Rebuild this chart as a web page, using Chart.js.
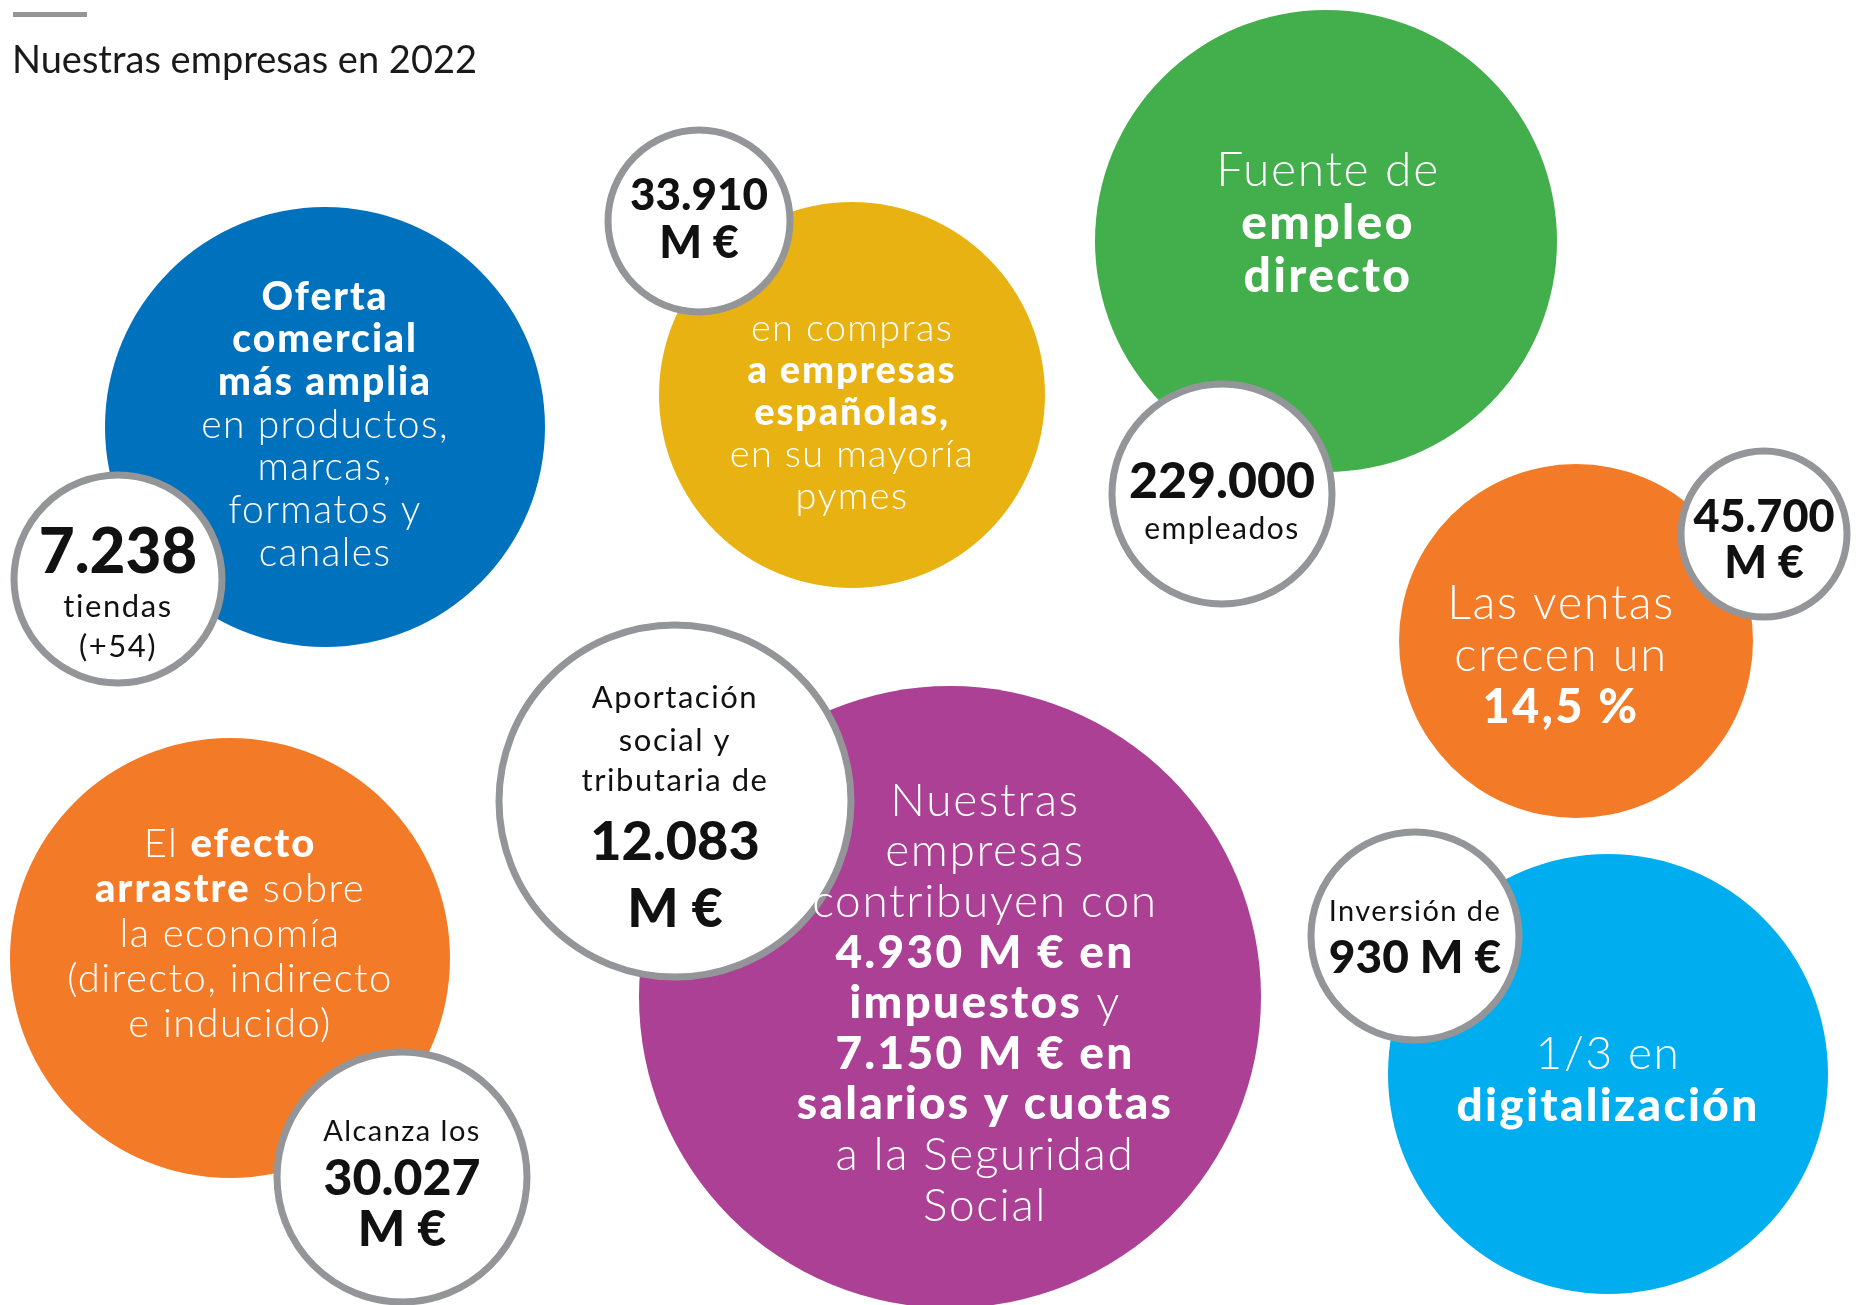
<!DOCTYPE html>
<html>
<head>
<meta charset="utf-8">
<script src="https://cdn.jsdelivr.net/npm/chart.js@4.4.1/dist/chart.umd.min.js"></script>
<style>
html, body { margin: 0; padding: 0; background: #fff; }
#wrap { width: 1861px; height: 1305px; position: relative; }
</style>
</head>
<body>
<div id="wrap"><canvas id="bubbles"></canvas></div>
<script>
const TITLE = 'Nuestras empresas en 2022';

// coloured circles: oferta, compras, empleo, ventas, arrastre, contribución, digitalización
const bigX = [325, 852, 1326, 1576, 230, 950, 1608];
const bigY = [427, 395, 241, 641, 958, 997, 1074];
const bigR = [220, 193, 231, 177, 220, 311, 220];
const bigColors = ['#0071BC', '#E9B213', '#43AE4C', '#F37A26', '#F37A26', '#AB4095', '#00AEEF'];

// *texto* = negrita
const bigText = [
    ['*Oferta*', '*comercial*', '*más amplia*', 'en productos,', 'marcas,', 'formatos y', 'canales'],
    ['en compras', '*a empresas*', '*españolas,*', 'en su mayoría', 'pymes'],
    ['Fuente de', '*empleo*', '*directo*'],
    ['Las ventas', 'crecen un', '*14,5 %*'],
    ['El *efecto*', '*arrastre* sobre', 'la economía', '(directo, indirecto', 'e inducido)'],
    ['Nuestras', 'empresas', 'contribuyen con', '*4.930 M € en*', '*impuestos* y', '*7.150 M € en*', '*salarios y cuotas*', 'a la Seguridad', 'Social'],
    ['1/3 en', '*digitalización*'],
];

// white circles with the key figures
const smallX = [118, 699, 1222, 1764, 675, 402, 1415];
const smallY = [579, 221, 494, 534, 801, 1177, 936];
const smallR = [104, 91, 110, 83, 176, 125, 104];

const smallText = [
    ['*7.238*', 'tiendas', '(+54)'],
    ['*33.910*', '*M €*'],
    ['*229.000*', 'empleados'],
    ['*45.700*', '*M €*'],
    ['Aportación', 'social y', 'tributaria de', '*12.083*', '*M €*'],
    ['Alcanza los', '*30.027*', '*M €*'],
    ['Inversión de', '*930 M €*'],
];

// text layout: [dx, first line dy, line height, font size]
const bigLayout = [
    [0, -130, 42.7, 39],
    [0, -66, 42, 38],
    [2, -70, 53, 48],
    [-15, -37, 52, 47],
    [0, -114, 45, 40],
    [35, -196, 50.6, 46],
    [0, -20, 52, 46],
];
// per line: [dy, size]
const smallLayout = [
    [[-26, 62], [28, 31], [68, 31]],
    [[-25, 44], [22, 45]],
    [[-12, 50], [35, 30]],
    [[-17, 45], [29, 45]],
    [[-103, 31], [-60, 31], [-20, 31], [42, 54], [109, 54]],
    [[-45, 29], [2, 50], [53, 50]],
    [[-24, 29], [22, 46]],
];

const FONT = 'Lato, "Noto Sans", sans-serif';

function segments(line) {
    return line.split('*').map((t, i) => ({text: t, bold: i % 2 === 1})).filter(s => s.text.length);
}

// tracking in em: [regular, bold]
function drawLine(ctx, line, cx, cy, size, color, lightWeight, track) {
    const segs = segments(line);
    let total = 0;
    const setFont = s => {
        ctx.font = (s.bold ? '900 ' : lightWeight + ' ') + size + 'px ' + FONT;
        ctx.letterSpacing = ((s.bold ? track[1] : track[0]) * size).toFixed(2) + 'px';
    };
    segs.forEach(s => {
        setFont(s);
        s.w = ctx.measureText(s.text).width;
        total += s.w;
    });
    let x = cx - total / 2;
    ctx.fillStyle = color;
    ctx.textAlign = 'left';
    ctx.textBaseline = 'middle';
    segs.forEach(s => {
        setFont(s);
        ctx.fillText(s.text, x, cy);
        x += s.w;
    });
    ctx.letterSpacing = '0px';
}

const bubbleText = {
    id: 'bubbleText',
    afterDatasetsDraw(chart) {
        const ctx = chart.ctx;
        ctx.save();
        const big = chart.getDatasetMeta(1).data;
        big.forEach((pt, i) => {
            const [dx, dy, lh, size] = bigLayout[i];
            bigText[i].forEach((line, j) => {
                drawLine(ctx, line, pt.x + dx, pt.y + dy + j * lh, size, '#ffffff', 300, [0.035, 0.05]);
            });
        });
        const small = chart.getDatasetMeta(0).data;
        small.forEach((pt, i) => {
            smallText[i].forEach((line, j) => {
                const [dy, size] = smallLayout[i][j];
                drawLine(ctx, line, pt.x, pt.y + dy, size, '#111111', 400, [0.05, 0]);
            });
        });
        // title with grey rule
        ctx.fillStyle = '#939598';
        ctx.fillRect(13, 12, 74, 5);
        ctx.fillStyle = '#1a1a1a';
        ctx.font = '400 38px ' + FONT;
        ctx.textAlign = 'left';
        ctx.textBaseline = 'alphabetic';
        ctx.fillText(TITLE, 12, 73);
        ctx.restore();
    }
};

const config = {
    type: 'bubble',
    data: {
        datasets: [
            {
                label: 'cifras',
                data: smallX.map((x, i) => ({x: x, y: smallY[i], r: smallR[i]})),
                backgroundColor: '#ffffff',
                borderColor: '#939598',
                borderWidth: 7,
                clip: false,
                order: 0,
            },
            {
                label: 'temas',
                data: bigX.map((x, i) => ({x: x, y: bigY[i], r: bigR[i]})),
                backgroundColor: bigColors,
                borderWidth: 0,
                clip: false,
                order: 1,
            },
        ]
    },
    options: {
        responsive: true,
        maintainAspectRatio: false,
        animation: false,
        events: [],
        layout: {padding: 0, autoPadding: false},
        scales: {
            x: {type: 'linear', min: 0, max: 1861, display: false},
            y: {type: 'linear', min: 0, max: 1305, reverse: true, display: false},
        },
        plugins: {
            legend: {display: false},
            tooltip: {enabled: false},
        },
    },
    plugins: [bubbleText],
};

const bubbleChart = new Chart(document.getElementById('bubbles'), config);
</script>
</body>
</html>
